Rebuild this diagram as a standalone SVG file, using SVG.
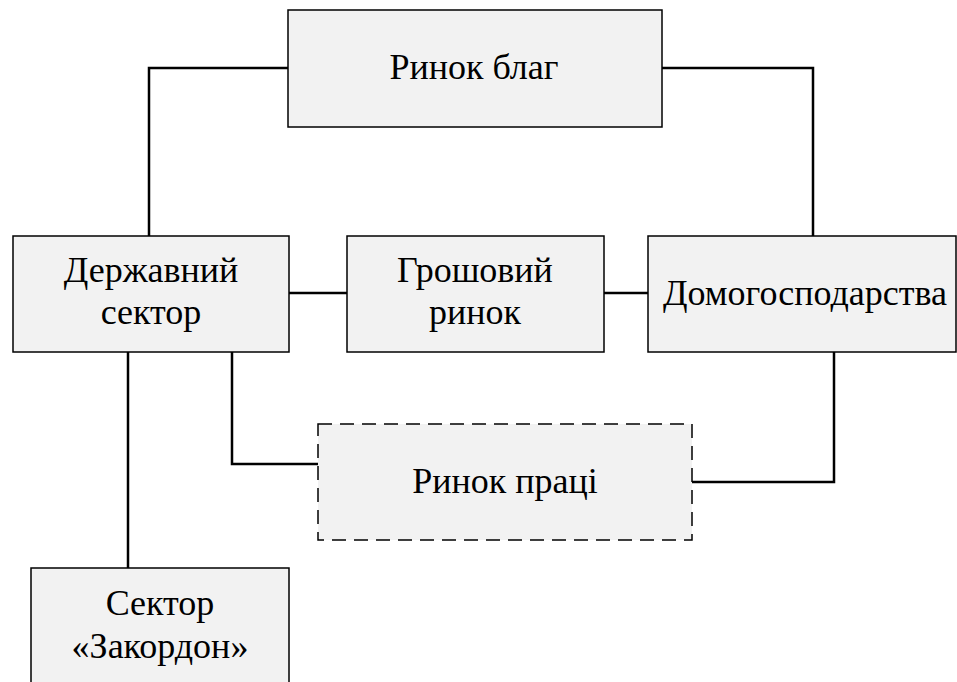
<svg xmlns="http://www.w3.org/2000/svg" width="957" height="682" viewBox="0 0 957 682">
<style>
.box{fill:#f2f2f2;stroke:#000;stroke-width:1.5}
.dash{stroke-dasharray:14,8}
.t{font-family:'Liberation Serif','Times New Roman',serif;font-size:36px;fill:#000;text-anchor:middle}
.c{fill:none;stroke:#000;stroke-width:2.5}
</style>
<rect width="957" height="682" fill="#fff"/>
<g id="connectors">
<polyline class="c" points="288,68 149,68 149,236"/>
<polyline class="c" points="662,68 813,68 813,236"/>
<line class="c" x1="289" y1="293" x2="347" y2="293"/>
<line class="c" x1="604" y1="293" x2="648" y2="293"/>
<polyline class="c" points="232,352 232,464 318,464"/>
<polyline class="c" points="692,482 834,482 834,352"/>
<line class="c" x1="128" y1="352" x2="128" y2="568"/>
</g>
<g id="rynok-blah">
<rect class="box" x="288" y="10" width="374" height="117"/>
<text class="t" x="474" y="79">Ринок благ</text>
</g>
<g id="derzh-sektor">
<rect class="box" x="13" y="236" width="276" height="116"/>
<text class="t" x="151" y="282">Державний</text>
<text class="t" x="151" y="324">сектор</text>
</g>
<g id="hroshovyi-rynok">
<rect class="box" x="347" y="236" width="257" height="116"/>
<text class="t" x="475" y="282">Грошовий</text>
<text class="t" x="475" y="324">ринок</text>
</g>
<g id="domohospodarstva">
<rect class="box" x="648" y="236" width="308" height="116"/>
<text class="t" x="805" y="305">Домогосподарства</text>
</g>
<g id="rynok-pratsi">
<rect class="box dash" x="318" y="424" width="374" height="116"/>
<text class="t" x="505" y="493">Ринок праці</text>
</g>
<g id="sektor-zakordon">
<rect class="box" x="31" y="568" width="258" height="130"/>
<text class="t" x="160" y="615">Сектор</text>
<text class="t" x="160" y="658">«Закордон»</text>
</g>
</svg>
